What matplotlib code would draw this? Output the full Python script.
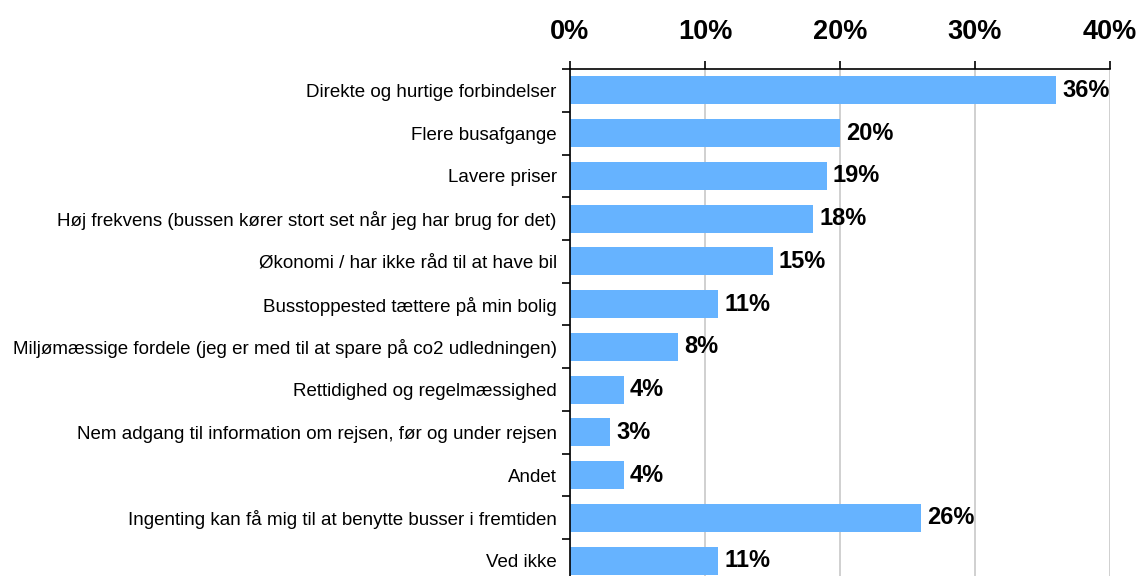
import numpy as np
import matplotlib.pyplot as plt
from matplotlib.ticker import FixedLocator, PercentFormatter

plt.rcParams['font.family'] = ['Liberation Sans', 'DejaVu Sans']

# Survey answers, in percent
categories = [
    'Direkte og hurtige forbindelser',
    'Flere busafgange',
    'Lavere priser',
    'Høj frekvens (bussen kører stort set når jeg har brug for det)',
    'Økonomi / har ikke råd til at have bil',
    'Busstoppested tættere på min bolig',
    'Miljømæssige fordele (jeg er med til at spare på co2 udledningen)',
    'Rettidighed og regelmæssighed',
    'Nem adgang til information om rejsen, før og under rejsen',
    'Andet',
    'Ingenting kan få mig til at benytte busser i fremtiden',
    'Ved ikke',
]
values = [36, 20, 19, 18, 15, 11, 8, 4, 3, 4, 26, 11]

fig = plt.figure(figsize=(11.37, 5.76), dpi=100)
ax = fig.add_axes([0.5013, -0.0104, 0.475, 0.8906])

y = np.arange(len(categories))
ax.barh(y, values, height=0.65, color='#66b3ff', zorder=2)

for yi, v in zip(y, values):
    ax.text(v + 0.45, yi, f'{v}%', va='center', ha='left',
            fontsize=17, fontweight='bold', zorder=3)

ax.set_xlim(0, 40)
ax.set_ylim(len(categories) - 0.5, -0.5)
ax.set_xticks([0, 10, 20, 30, 40])
ax.xaxis.set_major_formatter(PercentFormatter(decimals=0))
ax.xaxis.tick_top()
ax.tick_params(axis='x', which='major', length=6, width=1.2, pad=11,
               labelsize=19.5, colors='black')
for lbl in ax.get_xticklabels():
    lbl.set_fontweight('bold')

ax.set_yticks(y)
ax.set_yticklabels(categories, fontsize=13.5)
ax.yaxis.set_minor_locator(FixedLocator(np.arange(len(categories) + 1) - 0.5))
ax.tick_params(axis='y', which='major', length=0, pad=9.5)
ax.tick_params(axis='y', which='minor', length=6, width=1.2)

ax.grid(axis='x', color='#c8c8c8', linewidth=1.2, zorder=0)
ax.spines['right'].set_visible(False)
ax.spines['bottom'].set_visible(False)
ax.spines['top'].set_linewidth(1.2)
ax.spines['left'].set_linewidth(1.2)

fig.savefig('out.png', dpi=100)
